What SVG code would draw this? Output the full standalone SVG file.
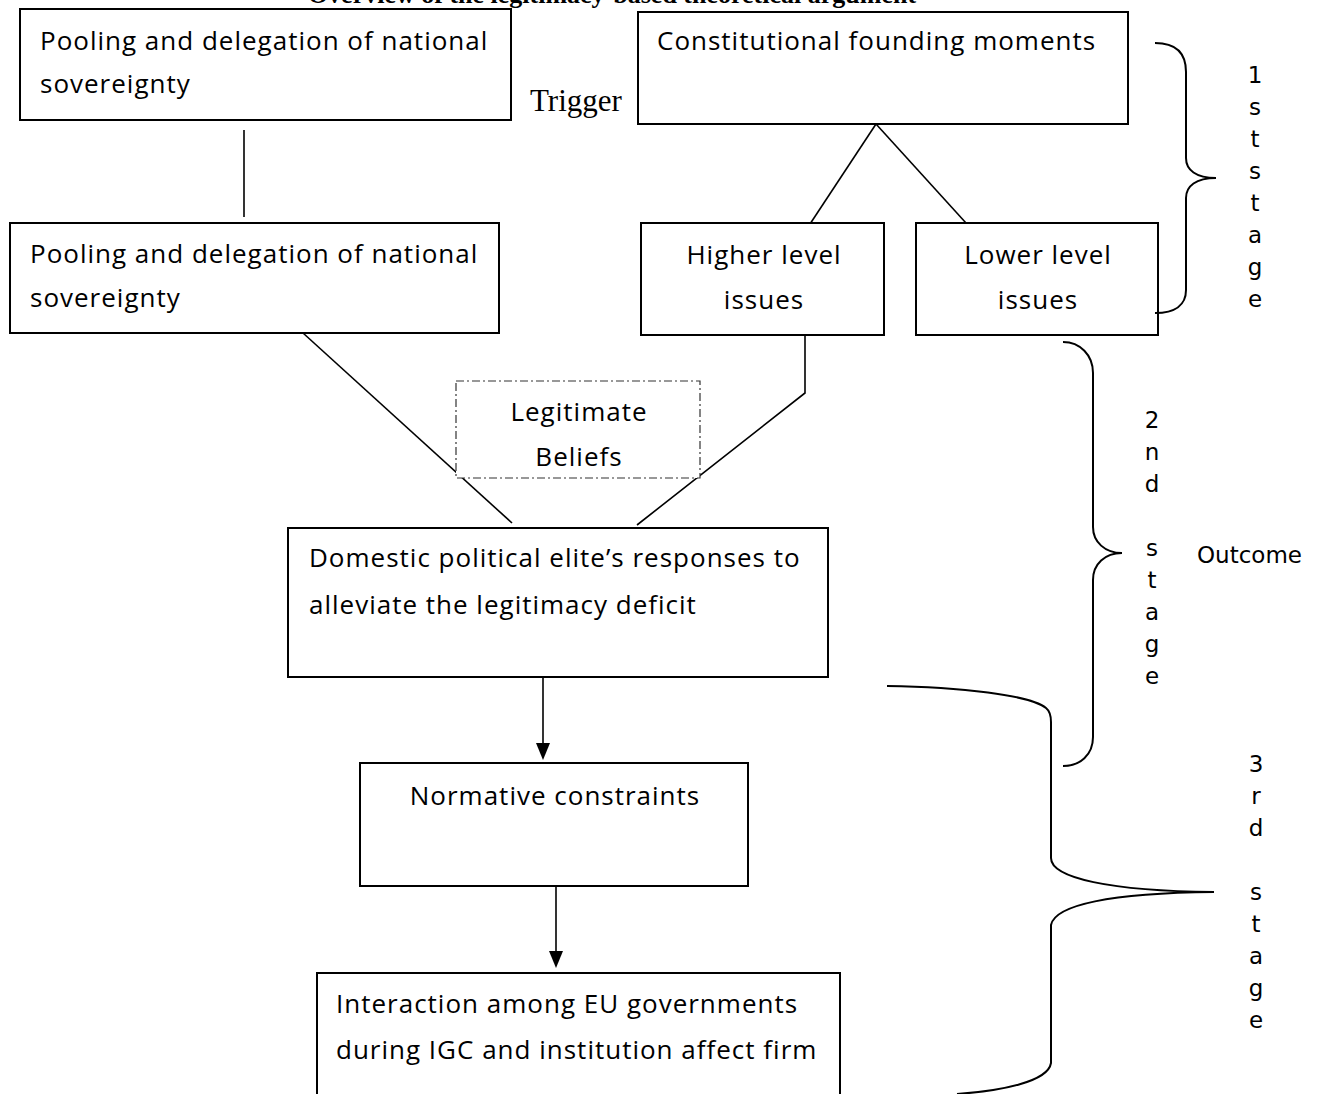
<svg xmlns="http://www.w3.org/2000/svg" width="1319" height="1094" viewBox="0 0 1319 1094">
<style>
.box{fill:#fff;stroke:#000;stroke-width:2}
.t{font-family:"Open Sans","Noto Sans","DejaVu Sans",sans-serif;font-size:26px;letter-spacing:1px;fill:#000}
.c{text-anchor:middle}
.st{font-family:"DejaVu Sans","Liberation Sans",sans-serif;font-size:23px;fill:#000;text-anchor:middle}
.ln{stroke:#000;stroke-width:1.6;fill:none}
.br{stroke:#000;stroke-width:2;fill:none}
.ah{fill:#000}
</style>
<rect width="1319" height="1094" fill="#fff"/>
<text x="612" y="3" text-anchor="middle" font-family="Liberation Serif, serif" font-weight="bold" font-size="26">Overview of the legitimacy-based theoretical argument</text>

<g id="connectors">
<line class="ln" x1="244" y1="130" x2="244" y2="217"/>
<line class="ln" x1="876" y1="124" x2="810" y2="224"/>
<line class="ln" x1="876" y1="124" x2="966" y2="223"/>
<polyline class="ln" points="805,335 805,393 637,525"/>
<line class="ln" x1="303" y1="333" x2="512" y2="523"/>
<line class="ln" x1="543" y1="677" x2="543" y2="745"/>
<path class="ah" d="M536,743 L550,743 L543,760 Z"/>
<line class="ln" x1="556" y1="886" x2="556" y2="953"/>
<path class="ah" d="M549,951 L563,951 L556,968 Z"/>
</g>

<g id="node-pooling-1">
<rect class="box" x="20" y="9" width="491" height="111"/>
<text class="t" x="40" y="50">Pooling and delegation of national</text>
<text class="t" x="40" y="93">sovereignty</text>
</g>
<g id="node-trigger">
<text x="530" y="111" font-family="Liberation Serif, serif" font-size="31">Trigger</text>
</g>
<g id="node-constitutional">
<rect class="box" x="638" y="12" width="490" height="112"/>
<text class="t" x="657" y="50">Constitutional founding moments</text>
</g>
<g id="node-pooling-2">
<rect class="box" x="10" y="223" width="489" height="110"/>
<text class="t" x="30" y="263">Pooling and delegation of national</text>
<text class="t" x="30" y="307">sovereignty</text>
</g>
<g id="node-higher">
<rect class="box" x="641" y="223" width="243" height="112"/>
<text class="t c" x="764" y="264">Higher level</text>
<text class="t c" x="764" y="309">issues</text>
</g>
<g id="node-lower">
<rect class="box" x="916" y="223" width="242" height="112"/>
<text class="t c" x="1038" y="264">Lower level</text>
<text class="t c" x="1038" y="309">issues</text>
</g>
<g id="node-beliefs">
<rect x="456" y="381" width="244" height="97" fill="#fff" stroke="#333" stroke-width="1.2" stroke-dasharray="8,3,2,3"/>
<text class="t c" x="579" y="421">Legitimate</text>
<text class="t c" x="579" y="466">Beliefs</text>
</g>
<g id="node-domestic">
<rect class="box" x="288" y="528" width="540" height="149"/>
<text class="t" x="309" y="567">Domestic political elite’s responses to</text>
<text class="t" x="309" y="614">alleviate the legitimacy deficit</text>
</g>
<g id="node-normative">
<rect class="box" x="360" y="763" width="388" height="123"/>
<text class="t c" x="555" y="805">Normative constraints</text>
</g>
<g id="node-interaction">
<path class="box" d="M317,1100 L317,973 L840,973 L840,1100"/>
<text class="t" x="336" y="1013">Interaction among EU governments</text>
<text class="t" x="336" y="1059">during IGC and institution affect firm</text>
</g>

<g id="brace-1">
<path class="br" d="M1155,43 C1175,43 1186,52 1186,72 L1186,158 C1186,170 1196,178 1216,178 C1196,178 1186,186 1186,198 L1186,290 C1186,305 1175,313 1155,313"/>
<text class="st"><tspan x="1255" y="83">1</tspan><tspan x="1255" y="115">s</tspan><tspan x="1255" y="147">t</tspan><tspan x="1255" y="179">s</tspan><tspan x="1255" y="211">t</tspan><tspan x="1255" y="243">a</tspan><tspan x="1255" y="275">g</tspan><tspan x="1255" y="307">e</tspan></text>
</g>
<g id="brace-2">
<path class="br" d="M1063,342 C1080,342 1093,355 1093,373 L1093,527 C1093,542 1105,553 1122,553 C1105,553 1093,564 1093,580 L1093,737 C1093,755 1080,766 1063,766"/>
<text class="st"><tspan x="1152" y="428">2</tspan><tspan x="1152" y="460">n</tspan><tspan x="1152" y="492">d</tspan><tspan x="1152" y="556">s</tspan><tspan x="1152" y="588">t</tspan><tspan x="1152" y="620">a</tspan><tspan x="1152" y="652">g</tspan><tspan x="1152" y="684">e</tspan></text>
<text x="1197" y="563" font-family="DejaVu Sans, sans-serif" font-size="23">Outcome</text>
</g>
<g id="brace-3">
<path class="br" d="M887,686 C960,687 1030,695 1046,708 Q1051,712 1051,722 L1051,858 C1051,878 1110,891 1214,892 C1110,893 1055,905 1051,925 L1051,1063 C1048,1082 1000,1091 957,1094"/>
<text class="st"><tspan x="1256" y="772">3</tspan><tspan x="1256" y="804">r</tspan><tspan x="1256" y="836">d</tspan><tspan x="1256" y="900">s</tspan><tspan x="1256" y="932">t</tspan><tspan x="1256" y="964">a</tspan><tspan x="1256" y="996">g</tspan><tspan x="1256" y="1028">e</tspan></text>
</g>
</svg>
